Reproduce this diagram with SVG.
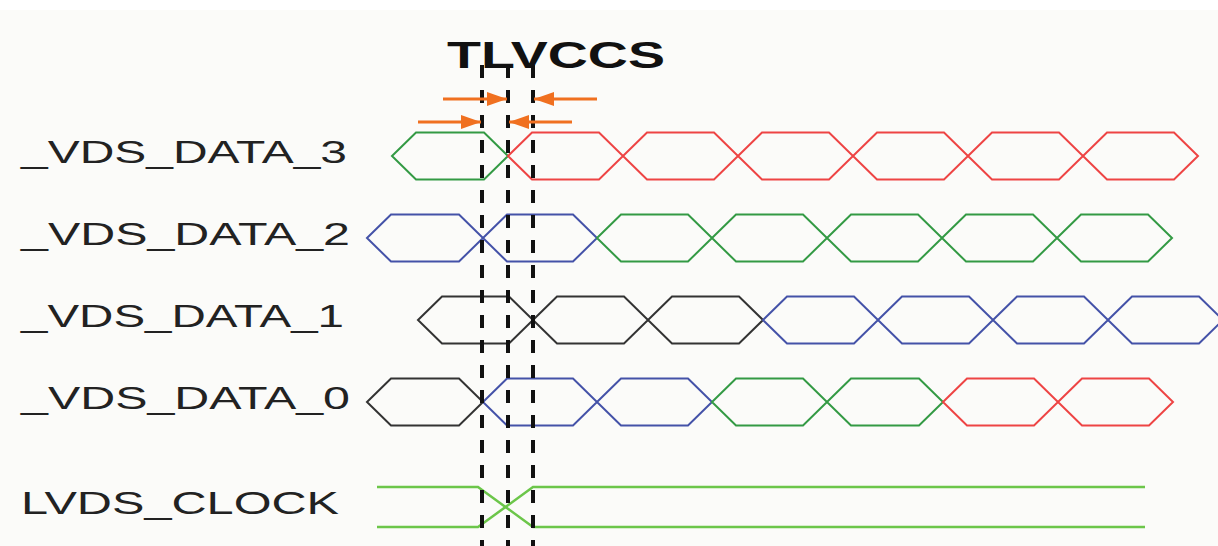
<svg xmlns="http://www.w3.org/2000/svg" width="1218" height="546" viewBox="0 0 1218 546">
<defs>
<style>
.lbl{font-family:"Liberation Sans",Arial,sans-serif;font-size:32px;fill:#222}
.ttl{font-family:"Liberation Sans",Arial,sans-serif;font-size:37px;font-weight:bold;fill:#111}
.w{fill:none;stroke-width:2;stroke-linejoin:miter}
.r{stroke:#ee4444}.g{stroke:#339a44}.b{stroke:#4452a8}.k{stroke:#333}
.clk{fill:none;stroke:#6cc64a;stroke-width:2.5}
.dash{stroke:#111;stroke-width:4;stroke-dasharray:13 12}
.arr{stroke:#f07020;stroke-width:3}
</style>
<marker id="ah" viewBox="0 0 20 14" refX="20" refY="7" markerWidth="20" markerHeight="14" markerUnits="userSpaceOnUse" orient="auto">
<path d="M0,0 L20,7 L0,14 Z" fill="#f07020"/>
</marker>
</defs>
<rect x="0" y="0" width="1218" height="546" fill="#ffffff"/>
<rect x="0" y="10" width="1218" height="536" fill="#fbfbf9"/>

<g id="title"><text class="ttl" x="447" y="68" textLength="218" lengthAdjust="spacingAndGlyphs">TLVCCS</text></g>

<g id="labels">
<text class="lbl" x="21" y="163" textLength="326" lengthAdjust="spacingAndGlyphs">_VDS_DATA_3</text>
<text class="lbl" x="21" y="245" textLength="329" lengthAdjust="spacingAndGlyphs">_VDS_DATA_2</text>
<text class="lbl" x="21" y="327" textLength="323" lengthAdjust="spacingAndGlyphs">_VDS_DATA_1</text>
<text class="lbl" x="21" y="409" textLength="329" lengthAdjust="spacingAndGlyphs">_VDS_DATA_0</text>
<text class="lbl" x="21" y="514" textLength="318" lengthAdjust="spacingAndGlyphs">LVDS_CLOCK</text>
</g>

<g id="data3">
<path class="w g" d="M392,156 L416,132.5 L484,132.5 L508,156 L484,179.5 L416,179.5 Z"/>
<path class="w r" d="M508,156 L532,132.5 L599,132.5 L623,156 L599,179.5 L532,179.5 Z"/>
<path class="w r" d="M623,156 L647,132.5 L714,132.5 L738,156 L714,179.5 L647,179.5 Z"/>
<path class="w r" d="M738,156 L762,132.5 L829,132.5 L853,156 L829,179.5 L762,179.5 Z"/>
<path class="w r" d="M853,156 L877,132.5 L944,132.5 L968,156 L944,179.5 L877,179.5 Z"/>
<path class="w r" d="M968,156 L992,132.5 L1059,132.5 L1083,156 L1059,179.5 L992,179.5 Z"/>
<path class="w r" d="M1083,156 L1107,132.5 L1174,132.5 L1198,156 L1174,179.5 L1107,179.5 Z"/>
</g>

<g id="data2">
<path class="w b" d="M367,238 L391,214.5 L459,214.5 L483,238 L459,261.5 L391,261.5 Z"/>
<path class="w b" d="M483,238 L507,214.5 L573,214.5 L597,238 L573,261.5 L507,261.5 Z"/>
<path class="w g" d="M597,238 L621,214.5 L688,214.5 L712,238 L688,261.5 L621,261.5 Z"/>
<path class="w g" d="M712,238 L736,214.5 L803,214.5 L827,238 L803,261.5 L736,261.5 Z"/>
<path class="w g" d="M827,238 L851,214.5 L918,214.5 L942,238 L918,261.5 L851,261.5 Z"/>
<path class="w g" d="M942,238 L966,214.5 L1033,214.5 L1057,238 L1033,261.5 L966,261.5 Z"/>
<path class="w g" d="M1057,238 L1081,214.5 L1148,214.5 L1172,238 L1148,261.5 L1081,261.5 Z"/>
</g>

<g id="data1">
<path class="w k" d="M418,320 L442,296.5 L509,296.5 L533,320 L509,343.5 L442,343.5 Z"/>
<path class="w k" d="M533,320 L557,296.5 L624,296.5 L648,320 L624,343.5 L557,343.5 Z"/>
<path class="w k" d="M648,320 L672,296.5 L739,296.5 L763,320 L739,343.5 L672,343.5 Z"/>
<path class="w b" d="M763,320 L787,296.5 L854,296.5 L878,320 L854,343.5 L787,343.5 Z"/>
<path class="w b" d="M878,320 L902,296.5 L969,296.5 L993,320 L969,343.5 L902,343.5 Z"/>
<path class="w b" d="M993,320 L1017,296.5 L1084,296.5 L1108,320 L1084,343.5 L1017,343.5 Z"/>
<path class="w b" d="M1108,320 L1132,296.5 L1199,296.5 L1223,320 L1199,343.5 L1132,343.5 Z"/>
</g>

<g id="data0">
<path class="w k" d="M367,402 L391,378.5 L459,378.5 L483,402 L459,425.5 L391,425.5 Z"/>
<path class="w b" d="M483,402 L507,378.5 L573,378.5 L597,402 L573,425.5 L507,425.5 Z"/>
<path class="w b" d="M597,402 L621,378.5 L688,378.5 L712,402 L688,425.5 L621,425.5 Z"/>
<path class="w g" d="M712,402 L736,378.5 L803,378.5 L827,402 L803,425.5 L736,425.5 Z"/>
<path class="w g" d="M827,402 L851,378.5 L919,378.5 L943,402 L919,425.5 L851,425.5 Z"/>
<path class="w r" d="M943,402 L967,378.5 L1034,378.5 L1058,402 L1034,425.5 L967,425.5 Z"/>
<path class="w r" d="M1058,402 L1082,378.5 L1149,378.5 L1173,402 L1149,425.5 L1082,425.5 Z"/>
</g>

<g id="clock">
<path class="clk" d="M377,487 L478,487 L533,527 L1145,527"/>
<path class="clk" d="M377,527 L478,527 L533,487 L1145,487"/>
</g>

<g id="connectors">
<line class="dash" x1="482" y1="65" x2="482" y2="546"/>
<line class="dash" x1="508" y1="65" x2="508" y2="546"/>
<line class="dash" x1="533" y1="65" x2="533" y2="546"/>
<line class="arr" x1="443" y1="99" x2="507" y2="99" marker-end="url(#ah)"/>
<line class="arr" x1="597" y1="99" x2="534" y2="99" marker-end="url(#ah)"/>
<line class="arr" x1="418" y1="122" x2="481" y2="122" marker-end="url(#ah)"/>
<line class="arr" x1="572" y1="122" x2="509" y2="122" marker-end="url(#ah)"/>
</g>
</svg>
